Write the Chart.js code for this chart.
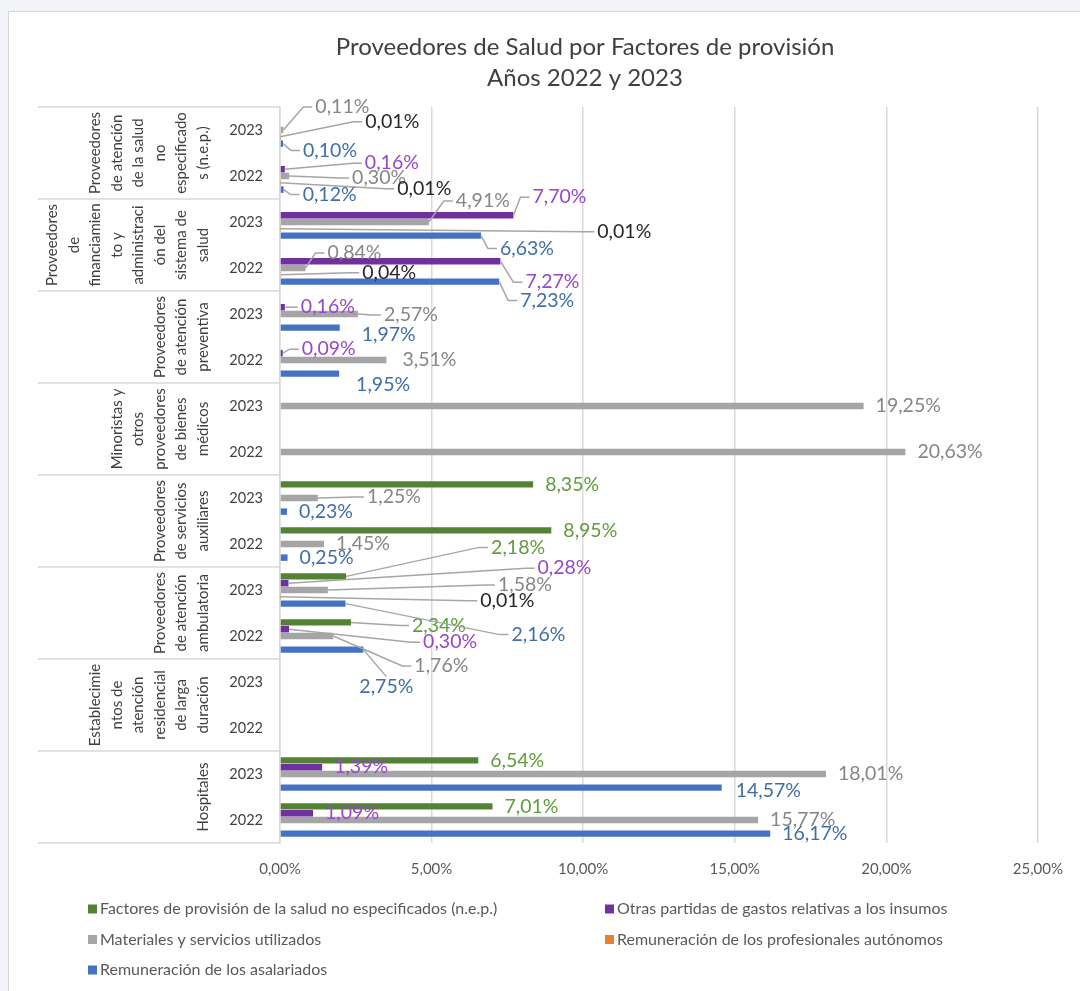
<!DOCTYPE html>
<html lang="es">
<head>
<meta charset="utf-8">
<title>Proveedores de Salud por Factores de provisión</title>
<script src="https://cdn.jsdelivr.net/npm/chart.js@4.4.1/dist/chart.umd.min.js"></script>
<style>
  html, body { margin: 0; padding: 0; background: #f3f4f8; overflow: hidden; }
  #frame { position: absolute; left: 8px; top: 11px; width: 1200px; height: 1100px;
           background: #fff; border: 1.5px solid #d6d6d6; }
  #c { position: absolute; left: 0; top: 0; }
</style>
</head>
<body>
<div id="frame"></div>
<canvas id="c" width="1080" height="991"></canvas>
<script>
const TITLE = ['Proveedores de Salud por Factores de provisión', 'Años 2022 y 2023'];
const YEARS = ['2023', '2022'];

// outer category level, already wrapped the way the source sheet wraps it
const GROUPS = [
  ['Proveedores', 'de atención', 'de la salud', 'no', 'especificado', 's (n.e.p.)'],
  ['Proveedores', 'de', 'financiamien', 'to y', 'administraci', 'ón del', 'sistema de', 'salud'],
  ['Proveedores', 'de atención', 'preventiva'],
  ['Minoristas y', 'otros', 'proveedores', 'de bienes', 'médicos'],
  ['Proveedores', 'de servicios', 'auxiliares'],
  ['Proveedores', 'de atención', 'ambulatoria'],
  ['Establecimie', 'ntos de', 'atención', 'residencial', 'de larga', 'duración'],
  ['Hospitales'],
];

const SERIES = [
  'Factores de provisión de la salud no especificados (n.e.p.)',
  'Otras partidas de gastos relativas a los insumos',
  'Materiales y servicios utilizados',
  'Remuneración de los profesionales autónomos',
  'Remuneración de los asalariados',
];

// % per row, top to bottom: (group, 2023), (group, 2022), ...
const nep        = [null, null, null, null, null, null, null, null, 8.35, 8.95, 2.18, 2.34, null, null, 6.54, 7.01];
const otras      = [null, 0.16, 7.70, 7.27, 0.16, 0.09, null, null, null, null, 0.28, 0.30, null, null, 1.39, 1.09];
const materiales = [0.11, 0.30, 4.91, 0.84, 2.57, 3.51, 19.25, 20.63, 1.25, 1.45, 1.58, 1.76, null, null, 18.01, 15.77];
const autonomos  = [0.01, 0.01, 0.01, 0.04, null, null, null, null, null, null, 0.01, null, null, null, null, null];
const asalariados= [0.10, 0.12, 6.63, 7.23, 1.97, 1.95, null, null, 0.23, 0.25, 2.16, 2.75, null, null, 14.57, 16.17];

const X_TICKS = [0, 5, 10, 15, 20, 25];

// styling
const BAR = ['#548235', '#7030a0', '#a5a5a5', '#ed7d31', '#4472c4'];
const LBL = ['#5f9c3b', '#9747c7', '#868686', '#262626', '#3f6fa5'];
const FONT = 'Lato, "Open Sans", sans-serif';

// hand-dragged data labels: "row-series" -> [dx, dy, leader?]
const NUDGE = {
  '0-2': [20, -23, 1], '0-3': [73, -15, 1], '0-4': [8, 7, 1],
  '1-1': [68, -6, 1], '1-2': [51, 2, 1], '1-3': [105, 6, 1], '1-4': [7, 5, 1],
  '2-1': [7, -18, 1], '2-2': [15, -21, 1], '2-3': [305, 3, 1], '2-4': [7, 13, 1],
  '3-1': [13, 21, 1], '3-2': [10, -15, 1], '3-3': [69, -2, 1], '3-4': [9, 19, 1],
  '4-1': [4, 0, 1], '4-2': [14, 1, 1], '4-4': [10, 7, 0],
  '5-1': [7, -4, 1], '5-2': [4, 0, 0], '5-4': [5, 11, 0],
  '8-2': [37, -1, 1],
  '10-0': [133, -29, 1], '10-1': [237, -15, 1], '10-2': [158, -5, 1], '10-3': [188, 4, 1], '10-4': [154, 31, 1],
  '11-0': [49, 3, 1], '11-1': [122, 13, 1], '11-2': [69, 30, 1], '11-4': [-16, 37, 1],
  '14-4': [2, 3, 0],
};

const fmt = (v) => v.toFixed(2).replace('.', ',') + '%';
const rowLabels = GROUPS.flatMap(() => YEARS);
const seriesData = [nep, otras, materiales, autonomos, asalariados];

const barLabels = {
  id: 'barLabels',
  afterDatasetsDraw(chart) {
    const { ctx } = chart;
    ctx.save();
    ctx.font = '19.5px ' + FONT;
    ctx.textBaseline = 'middle';
    ctx.textAlign = 'left';
    chart.data.datasets.forEach((ds, di) => {
      chart.getDatasetMeta(di).data.forEach((bar, i) => {
        const v = ds.data[i];
        if (v == null) return;
        const txt = fmt(v);
        const n = NUDGE[i + '-' + di] || [0, 0, 0];
        const lx = bar.x + 12 + n[0], ly = bar.y + n[1];
        if (n[2]) {
          const w = ctx.measureText(txt).width;
          ctx.strokeStyle = '#a6a6a6';
          ctx.lineWidth = 1.5;
          ctx.beginPath();
          ctx.moveTo(bar.x, bar.y);
          if (lx - 12 > bar.x) {
            ctx.lineTo(lx - 12, ly);
            ctx.lineTo(lx - 3, ly);
          } else {
            ctx.lineTo(lx + w / 2, ly - 10);
          }
          ctx.stroke();
        }
        ctx.fillStyle = LBL[di];
        ctx.fillText(txt, lx, ly);
      });
    });
    ctx.restore();
  },
};

// outer level of the category axis + title + two-column legend
const decor = {
  id: 'decor',
  afterDraw(chart) {
    const { ctx, chartArea: a, scales: { y } } = chart;
    const step = y.getPixelForValue(1) - y.getPixelForValue(0);
    ctx.save();
    ctx.strokeStyle = '#d9d9d9';
    ctx.lineWidth = 1.5;
    for (let g = 0; g <= GROUPS.length; g++) {
      const yy = Math.round(y.getPixelForValue(2 * g) - step / 2);
      ctx.beginPath();
      ctx.moveTo(38, yy);
      ctx.lineTo(a.left - 1, yy);
      ctx.stroke();
    }
    ctx.fillStyle = '#404040';
    ctx.font = '15px ' + FONT;
    ctx.textAlign = 'center';
    ctx.textBaseline = 'middle';
    GROUPS.forEach((lines, g) => {
      const cy = y.getPixelForValue(2 * g) + step / 2;
      lines.forEach((t, k) => {
        const x = 203 - (lines.length - 1 - k) * 21.5;
        ctx.save();
        ctx.translate(x, cy);
        ctx.rotate(-Math.PI / 2);
        ctx.fillText(t, 0, 0);
        ctx.restore();
      });
    });

    ctx.fillStyle = '#404040';
    ctx.font = '24px ' + FONT;
    ctx.fillText(TITLE[0], 585, 47);
    ctx.fillText(TITLE[1], 585, 78);

    ctx.font = '16px ' + FONT;
    ctx.textAlign = 'left';
    chart.data.datasets.forEach((ds, i) => {
      const x = [88, 605][i % 2], yy = 909 + Math.floor(i / 2) * 30.5;
      ctx.fillStyle = ds.backgroundColor;
      ctx.fillRect(x, yy - 4.5, 9, 9);
      ctx.fillStyle = '#595959';
      ctx.fillText(ds.label, x + 12, yy);
    });
    ctx.restore();
  },
};

new Chart(document.getElementById('c'), {
  type: 'bar',
  data: {
    labels: rowLabels,
    datasets: SERIES.map((name, i) => ({
      label: name,
      data: seriesData[i],
      backgroundColor: BAR[i],
      categoryPercentage: 0.74,
      barPercentage: 0.95,
    })),
  },
  options: {
    indexAxis: 'y',
    responsive: false,
    animation: false,
    layout: { padding: { top: 107, right: 35, left: 0, bottom: 0 } },
    plugins: { legend: { display: false }, title: { display: false }, tooltip: { enabled: false } },
    scales: {
      x: {
        min: X_TICKS[0], max: X_TICKS[X_TICKS.length - 1],
        afterBuildTicks: (s) => { s.ticks = X_TICKS.map((v) => ({ value: v })); },
        afterFit: (s) => { s.height = 148; },
        grid: { color: '#d9d9d9', lineWidth: 1.5, drawTicks: false },
        border: { display: false },
        ticks: { padding: 17, color: '#595959', font: { family: FONT, size: 15 }, callback: (v) => fmt(v) },
      },
      y: {
        afterFit: (s) => { s.width = 280; },
        grid: { display: false, drawTicks: false },
        border: { display: true, color: '#d9d9d9', width: 1.5 },
        ticks: { padding: 17, color: '#404040', font: { family: FONT, size: 14.5 } },
      },
    },
  },
  plugins: [barLabels, decor],
});
</script>
</body>
</html>
